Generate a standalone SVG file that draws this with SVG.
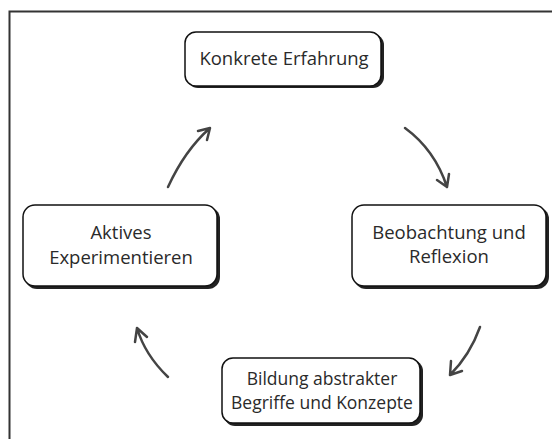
<svg xmlns="http://www.w3.org/2000/svg" width="552" height="439" viewBox="0 0 552 439">
<style>
.box{fill:#fff;stroke:#111;stroke-width:1.5}
.sh{fill:#222}
.t{font-family:"Open Sans","Liberation Sans",sans-serif;font-size:18.5px;fill:#2a2a2a;text-anchor:middle}
.s{font-size:17.5px}
.a{fill:none;stroke:#444;stroke-width:2.5;stroke-linecap:round;stroke-linejoin:round}
</style>
<rect width="552" height="439" fill="#fff"/>
<path d="M9.5 439 V11.5 H552" fill="none" stroke="#333" stroke-width="2"/>
<g id="n1">
<rect class="sh" x="187" y="34" width="197" height="54" rx="11"/>
<rect class="box" x="185" y="32" width="196" height="54" rx="11"/>
<text class="t" x="284" y="65">Konkrete Erfahrung</text>
</g>
<g id="n2">
<rect class="sh" x="354" y="207" width="195" height="82" rx="12"/>
<rect class="box" x="352" y="205" width="194" height="81" rx="12"/>
<text class="t" x="449" y="239">Beobachtung und</text>
<text class="t" x="449" y="263">Reflexion</text>
</g>
<g id="n3">
<rect class="sh" x="25" y="207" width="195" height="82" rx="12"/>
<rect class="box" x="23" y="205" width="194" height="81" rx="12"/>
<text class="t" x="121" y="239">Aktives</text>
<text class="t" x="121" y="264">Experimentieren</text>
</g>
<g id="n4">
<rect class="sh" x="224" y="360" width="199" height="66" rx="11"/>
<rect class="box" x="222" y="358" width="198" height="65" rx="11"/>
<text class="t s" x="322" y="385">Bildung abstrakter</text>
<text class="t s" x="322" y="409">Begriffe und Konzepte</text>
</g>
<g id="connectors">
<path class="a" d="M405 128 Q435 150 447 187 M437 180 L447 187 L449 174"/>
<path class="a" d="M168 187 Q185 150 210 128 M198 131 L210 128 L207 140"/>
<path class="a" d="M168 377 Q145 355 137 328 M135 342 L137 328 L147 337"/>
<path class="a" d="M480 327 Q470 355 450 375 M451 361 L450 375 L462 371"/>
</g>
</svg>
